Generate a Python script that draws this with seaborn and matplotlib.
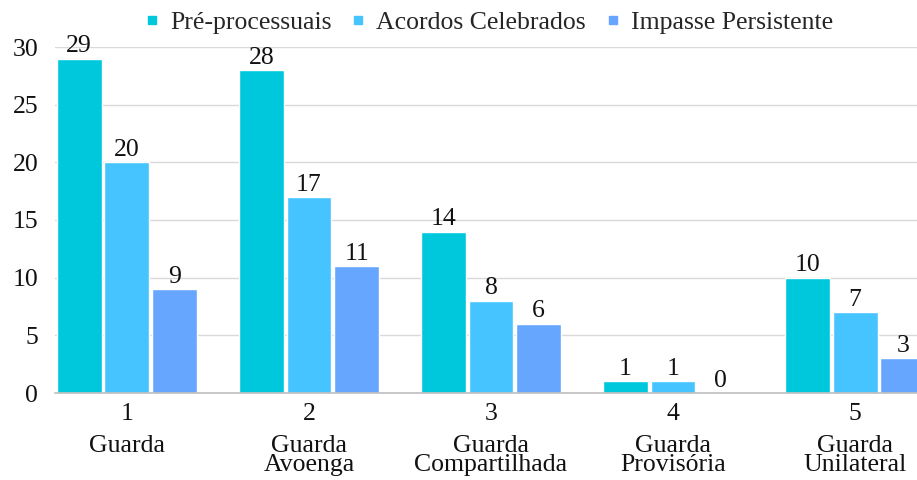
import pandas as pd
import matplotlib
matplotlib.use('Agg')
import matplotlib.pyplot as plt
import seaborn as sns
from matplotlib.lines import Line2D

# Data
groups = ['1', '2', '3', '4', '5']
group_names = ['Guarda', 'Guarda\nAvoenga', 'Guarda\nCompartilhada', 'Guarda\nProvisória', 'Guarda\nUnilateral']
series = ['Pré-processuais', 'Acordos Celebrados', 'Impasse Persistente']
pre_processuais = [29, 28, 14, 1, 10]
acordos = [20, 17, 8, 1, 7]
impasse = [9, 11, 6, 0, 3]
colors = ['#00C8DC', '#45C4FF', '#66A6FF']

df = pd.DataFrame({
    'grupo': groups * 3,
    'serie': [series[0]] * 5 + [series[1]] * 5 + [series[2]] * 5,
    'valor': pre_processuais + acordos + impasse,
})

sns.set_theme(style='white')
plt.rcParams['font.family'] = ['Liberation Serif', 'DejaVu Serif']
fs = 18.5

fig = plt.figure(figsize=(9.17, 4.8), dpi=100)
ax = fig.add_axes([55 / 917, 87 / 480, 862 / 917, 346 / 480])

sns.barplot(data=df, x='grupo', y='valor', hue='serie', order=groups, hue_order=series,
            palette=colors, width=0.786, gap=0.06, saturation=1, ax=ax, legend=False)

for cont in ax.containers:
    ax.bar_label(cont, fmt='%d', padding=1, fontsize=fs, color='#111111')

ax.set_ylim(0, 30)
ax.set_xlim(-0.395, 4.34)
ax.set_yticks(range(0, 31, 5))
ax.yaxis.grid(True, color='#D9D9D9', linewidth=1)
ax.set_axisbelow(True)
for s in ['top', 'right', 'left']:
    ax.spines[s].set_visible(False)
ax.spines['bottom'].set_color('#BFBFBF')
ax.spines['bottom'].set_linewidth(1.2)
ax.tick_params(axis='y', length=0, pad=12, labelsize=fs, labelcolor='#111111')
ax.tick_params(axis='x', length=0, pad=7, labelsize=fs, labelcolor='#111111')
ax.set_xlabel('')
ax.set_ylabel('')

# category names under the tick numbers
for i, name in enumerate(group_names):
    ax.text(i, -0.12, name, transform=ax.get_xaxis_transform(), ha='center', va='top',
            fontsize=fs, color='#111111', linespacing=0.88)

handles = [Line2D([0], [0], marker='s', linestyle='', markersize=6, markerfacecolor=c,
                  markeredgecolor=c) for c in colors]
fig.legend(handles, series, loc='upper center', bbox_to_anchor=(0.533, 1.025), ncol=3,
           frameon=False, fontsize=fs, handlelength=0.6, handletextpad=0.4, columnspacing=0.75)

fig.savefig('out.png', dpi=100)
